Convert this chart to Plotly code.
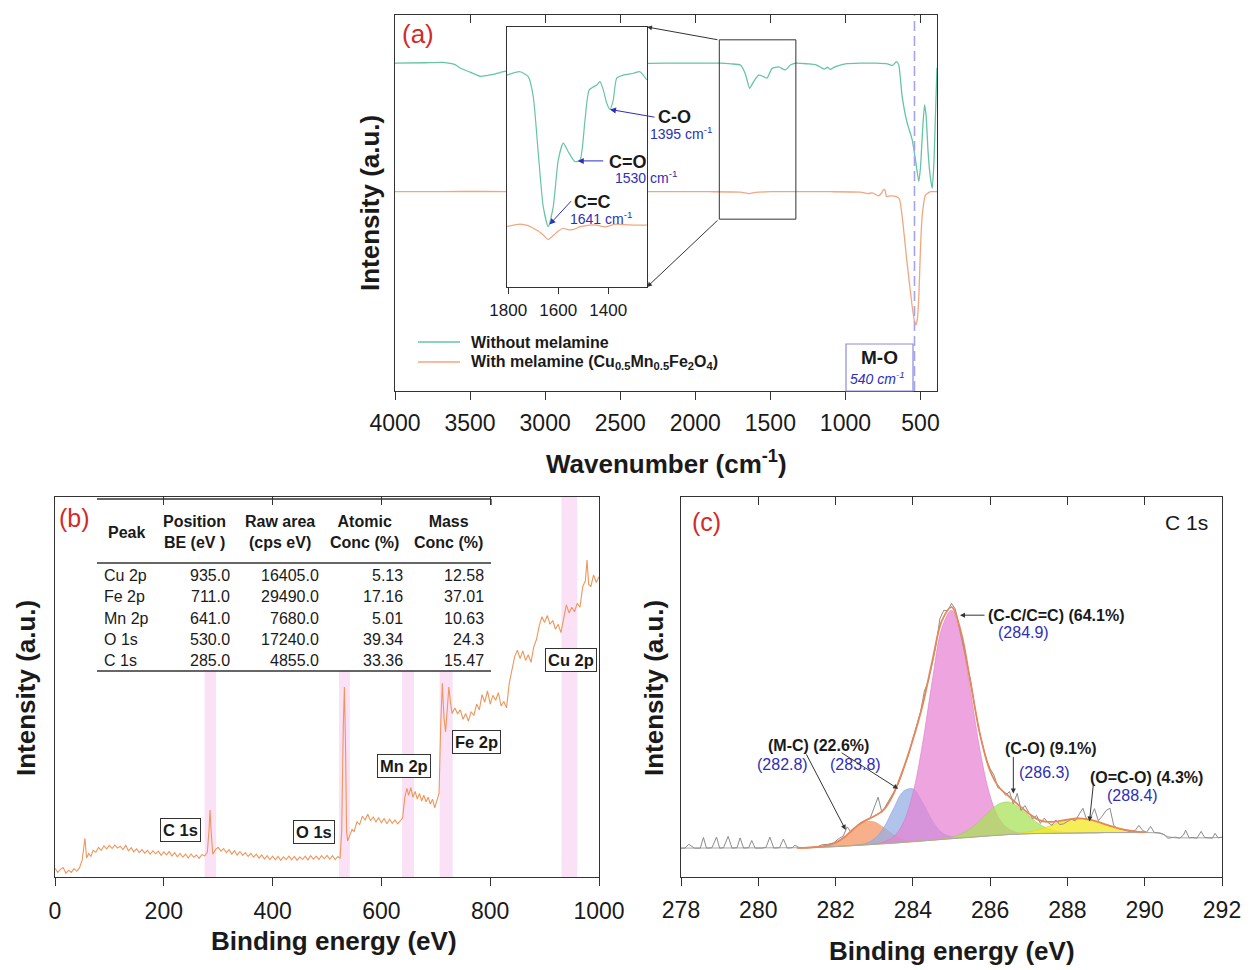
import plotly.graph_objects as go

# The page body adds an 8 px margin, so the figure is shifted and shrunk by that amount.
OFF = 8
W, H = 1255 - OFF, 970 - OFF
FONT = "Liberation Sans"
BLUE = "#2e2eb8"
RED = "#d22a2a"
AXC = "#333333"
TXT = "#1a1a1a"
GREEN = "#66c4a6"
ORANGE_A = "#f2a67f"
ORANGE_B = "#ef965c"


def px(x):
    return (x - OFF) / W


def py(y):
    return 1 - (y - OFF) / H


# ---------------- Panel (a): FTIR ----------------
ftir_ticks = [4000, 3500, 3000, 2500, 2000, 1500, 1000, 500]
ftir_without = [
    (4000, 87.2), (3800, 87.3), (3680, 87.4), (3600, 86.8), (3567, 85.9), (3500, 84.8),
    (3433, 83.7), (3390, 83.9), (3347, 84.2), (3300, 84.7), (3260, 85.1), (3200, 85.8),
    (3100, 86.6), (3000, 87.0), (2800, 87.0), (2600, 87.1), (2400, 87.1), (2200, 87.2),
    (2000, 87.2), (1840, 87.2), (1760, 87.0), (1700, 86.7), (1667, 84.4), (1638, 80.5),
    (1611, 82.3), (1578, 84.0), (1544, 83.6), (1522, 83.2), (1489, 85.8), (1444, 86.2),
    (1400, 85.4), (1367, 86.7), (1329, 87.2), (1250, 87.0), (1200, 86.8), (1160, 86.0),
    (1140, 85.6), (1120, 86.1), (1100, 85.5), (1080, 86.0), (1050, 86.5), (1000, 87.0),
    (900, 87.2), (800, 87.2), (720, 87.0), (685, 86.6), (660, 87.6), (645, 86.8),
    (622, 78.3), (590, 71.5), (555, 66.8), (533, 61.4), (511, 55.7), (500, 59.5),
    (485, 70.0), (473, 76.1), (462, 73.0), (450, 64.0), (435, 57.0), (422, 53.9),
    (410, 61.0), (400, 74.0), (390, 86.0),
]
ftir_with = [
    (4000, 53.0), (3700, 53.0), (3400, 53.1), (3100, 52.9), (2800, 53.0), (2500, 53.0),
    (2200, 53.0), (1900, 53.0), (1700, 52.9), (1640, 52.5), (1600, 52.8), (1500, 53.0),
    (1300, 53.0), (1100, 53.0), (900, 52.9), (850, 52.5), (820, 52.7), (780, 51.9),
    (760, 52.6), (745, 53.6), (735, 53.3), (727, 51.7), (700, 51.9), (660, 51.7),
    (640, 51.0), (622, 46.4), (589, 34.0), (555, 22.4), (540, 18.5), (529, 17.6),
    (520, 19.5), (511, 25.1), (500, 38.0), (489, 46.4), (467, 52.1), (433, 53.0),
    (390, 53.0),
]
legend_names = ["<b>Without melamine</b>",
                "<b>With melamine (Cu<sub>0.5</sub>Mn<sub>0.5</sub>Fe<sub>2</sub>O<sub>4</sub>)</b>"]
inset_ticks = [1800, 1600, 1400]
inset_wn = [1805, 1753, 1720, 1700, 1680, 1660, 1640, 1620, 1600, 1580, 1560, 1533, 1513,
            1493, 1476, 1446, 1433, 1420, 1406, 1393, 1380, 1366, 1340, 1300, 1273, 1246]
inset_without = [81.5, 82.8, 80.9, 73.2, 51.5, 30.9, 23.2, 30.9, 48.8, 55.3, 52.0, 48.2, 48.8,
                 64.2, 75.8, 77.7, 79.0, 75.8, 70.7, 68.3, 71.9, 80.3, 81.5, 82.2, 82.8, 79.6]
inset_with = [23.2, 24.2, 23.6, 22.6, 21.5, 20.0, 18.3, 19.8, 21.5, 22.6, 22.0, 22.3, 23.2,
              23.5, 23.8, 23.8, 23.5, 23.2, 23.2, 23.6, 24.0, 24.2, 24.0, 23.8, 23.8, 23.8]
inset_labels = ["C-O", "C=O", "C=C"]
inset_label_wn = [1395, 1530, 1641]
mo_wn = 540

# ---------------- Panel (b): XPS survey ----------------
survey_ticks = [0, 200, 400, 600, 800, 1000]
survey = [
    (0, 2.3), (5, 1.2), (10, 2.0), (15, 2.5), (20, 1.0), (25, 1.8), (30, 1.2), (35, 2.2),
    (40, 1.5), (45, 2.4), (50, 4.5), (55, 10.2), (58, 5.0), (62, 6.2), (66, 5.4), (70, 7.0),
    (75, 6.5), (80, 7.8), (85, 7.0), (90, 8.2), (95, 7.4), (100, 8.3), (105, 7.5), (110, 8.4),
    (115, 7.6), (120, 8.1), (125, 7.2), (130, 8.3), (135, 6.9), (140, 7.7), (145, 6.6),
    (150, 7.4), (155, 6.4), (160, 7.2), (165, 6.3), (170, 7.0), (175, 6.0), (180, 6.9),
    (185, 6.1), (190, 6.8), (195, 5.7), (200, 6.6), (205, 5.8), (210, 6.7), (215, 5.5),
    (220, 6.4), (225, 5.3), (230, 6.2), (235, 5.2), (240, 6.0), (245, 5.0), (250, 6.1),
    (255, 5.2), (260, 5.8), (265, 4.9), (270, 5.9), (275, 5.6), (280, 6.5), (283, 12.0),
    (285, 17.6), (287, 12.0), (290, 6.0), (295, 7.2), (300, 7.8), (305, 6.8), (310, 7.5),
    (315, 6.4), (320, 7.2), (325, 6.0), (330, 6.9), (335, 5.8), (340, 6.7), (345, 5.7),
    (350, 6.4), (355, 5.4), (360, 6.2), (365, 5.2), (370, 6.0), (375, 5.0), (380, 5.8),
    (385, 4.7), (390, 5.6), (395, 4.6), (400, 5.5), (405, 4.5), (410, 5.4), (415, 4.4),
    (420, 5.3), (425, 4.6), (430, 5.5), (435, 4.5), (440, 5.4), (445, 4.4), (450, 5.3),
    (455, 4.6), (460, 5.5), (465, 4.5), (470, 5.6), (475, 4.7), (480, 5.5), (485, 4.6),
    (490, 5.6), (495, 4.8), (500, 5.7), (505, 4.7), (510, 5.6), (515, 4.6), (520, 5.4),
    (524, 4.9), (527, 12.0), (530, 40.0), (532, 50.0), (534, 35.0), (536, 12.0), (538, 9.5),
    (542, 11.0), (546, 12.5), (550, 12.0), (555, 14.5), (560, 13.8), (565, 16.0), (570, 15.0),
    (575, 16.5), (580, 14.8), (585, 15.8), (590, 14.5), (595, 15.6), (600, 14.3), (605, 15.4),
    (610, 14.0), (615, 15.2), (620, 14.1), (625, 15.0), (630, 14.0), (635, 14.9), (639, 15.5),
    (643, 21.0), (647, 23.3), (650, 21.5), (654, 23.5), (658, 21.0), (662, 22.5), (666, 20.5),
    (670, 22.0), (674, 20.0), (678, 21.5), (682, 19.8), (686, 21.0), (690, 19.2), (694, 20.5),
    (698, 18.2), (702, 20.0), (706, 22.0), (709, 40.0), (712, 51.0), (715, 42.0), (718, 38.2),
    (721, 44.0), (724, 50.0), (727, 46.0), (730, 43.0), (735, 44.5), (740, 43.0), (745, 44.0),
    (750, 41.5), (755, 43.0), (760, 41.0), (765, 43.5), (770, 42.5), (775, 45.5), (780, 44.0),
    (785, 48.0), (790, 46.0), (795, 49.0), (800, 45.5), (805, 47.8), (810, 46.5), (815, 48.5),
    (820, 45.0), (825, 46.2), (830, 44.5), (835, 51.0), (840, 55.0), (845, 58.0), (850, 59.7),
    (855, 57.5), (860, 59.5), (865, 57.0), (870, 58.5), (875, 56.5), (880, 60.5), (885, 62.5),
    (890, 66.0), (895, 68.5), (900, 67.0), (905, 68.8), (910, 66.5), (915, 67.5), (920, 65.2),
    (925, 66.5), (930, 64.3), (935, 68.0), (940, 71.6), (945, 69.5), (950, 71.0), (955, 69.8),
    (960, 72.0), (965, 71.0), (970, 76.4), (975, 78.0), (978, 83.4), (981, 77.0), (985, 76.4),
    (990, 79.5), (995, 77.5), (1000, 79.0),
]
survey_be = [p[0] for p in survey]
survey_int = [p[1] for p in survey]

band_names = ["C 1s", "O 1s", "Mn 2p", "Fe 2p", "Cu 2p"]
band_lo = [275, 522, 638, 707, 931]
band_hi = [296, 542, 660, 731, 960]
label_be = [230, 477, 641, 775, 948]
label_int = [12.4, 11.8, 29.2, 35.5, 57.1]

table_peak = ["Cu 2p", "Fe 2p", "Mn 2p", "O 1s", "C 1s"]
table_position = ["935.0", "711.0", "641.0", "530.0", "285.0"]
table_raw_area = ["16405.0", "29490.0", "7680.0", "17240.0", "4855.0"]
table_atomic = ["5.13", "17.16", "5.01", "39.34", "33.36"]
table_mass = ["12.58", "37.01", "10.63", "24.3", "15.47"]
table_header = ["Peak", "Position<br>BE (eV )", "Raw area<br>(cps eV)", "Atomic<br>Conc (%)", "Mass<br>Conc (%)"]

# ---------------- Panel (c): C 1s ----------------
c1s_ticks = [278, 280, 282, 284, 286, 288, 290, 292]
c1s_grid = [281.0, 281.25, 281.5, 281.75, 282.0, 282.25, 282.5, 282.75, 283.0, 283.25, 283.5,
            283.75, 284.0, 284.25, 284.5, 284.75, 285.0, 285.25, 285.5, 285.75, 286.0, 286.25,
            286.5, 286.75, 287.0, 287.25, 287.5, 287.75, 288.0, 288.25, 288.5, 288.75, 289.0,
            289.25, 289.5, 289.75, 290.0]
c1s_bg = [7.7, 7.7, 7.8, 7.9, 8.0, 8.15, 8.3, 8.45, 8.6, 8.75, 8.9, 9.1, 9.3, 9.5, 9.7, 9.9,
          10.1, 10.3, 10.5, 10.7, 10.9, 11.05, 11.2, 11.3, 11.4, 11.45, 11.5, 11.55, 11.6, 11.6,
          11.65, 11.65, 11.7, 11.7, 11.7, 11.7, 11.7]
comp_mc = [0, 0, 0.1, 0.3, 1.0, 2.5, 4.6, 6.0, 5.9, 4.2, 2.2, 0.8, 0.2] + [0] * 24
comp_2838 = [0] * 6 + [0.1, 0.3, 1.4, 4.3, 9.1, 13.4, 13.9, 10.1, 5.2, 1.8, 0.5, 0.1] + [0] * 19
comp_cc = [0] * 8 + [0.1, 0.5, 1.7, 5.1, 12.7, 25.5, 41.8, 55.6, 60.1, 52.9, 37.8, 22.0, 10.4,
                     4.0, 1.3, 0.3, 0.1] + [0] * 12
comp_co = [0] * 15 + [0.1, 0.3, 1.0, 2.3, 4.3, 6.6, 8.3, 8.5, 7.0, 4.7, 2.6, 1.2, 0.4, 0.1] + [0] * 8
comp_oco = [0] * 22 + [0.1, 0.2, 0.5, 1.0, 1.8, 2.7, 3.4, 3.8, 3.6, 3.0, 2.1, 1.3, 0.7, 0.3, 0.1]

c1s_bgline_ev = [278.0, 280.0, 281.0, 281.5, 282.0, 282.5, 283.0, 283.5, 284.0, 284.5, 285.0,
                 285.5, 286.0, 286.5, 287.0, 287.5, 288.0, 289.0, 290.0, 290.4, 290.6, 290.8,
                 291.5, 292.0]
c1s_bgline = [7.6, 7.6, 7.7, 7.8, 8.0, 8.3, 8.6, 8.9, 9.3, 9.7, 10.1, 10.5, 10.9, 11.2, 11.4,
              11.5, 11.6, 11.7, 11.7, 11.6, 10.6, 10.3, 10.3, 10.4]

c1s_raw = [
    (278.0, 7.6), (278.1, 7.6), (278.2, 8.6), (278.35, 7.6), (278.5, 7.6), (278.58, 10.4),
    (278.66, 7.6), (278.8, 7.7), (278.92, 10.5), (279.0, 7.6), (279.1, 7.7), (279.22, 10.7),
    (279.32, 7.6), (279.45, 7.7), (279.53, 10.3), (279.62, 7.6), (279.75, 7.7), (279.83, 9.6),
    (279.92, 7.6), (280.1, 7.6), (280.2, 7.8), (280.3, 10.5), (280.4, 7.6), (280.55, 7.7),
    (280.65, 10.0), (280.75, 7.6), (280.88, 7.7), (280.95, 8.4), (281.05, 7.7), (281.2, 7.7),
    (281.4, 7.8), (281.55, 8.0), (281.65, 8.5), (281.8, 8.6), (281.95, 9.0), (282.1, 10.2),
    (282.2, 10.8), (282.3, 13.2), (282.4, 11.8), (282.5, 12.8), (282.6, 14.0), (282.7, 14.6),
    (282.8, 14.9), (282.9, 15.6), (283.0, 18.5), (283.1, 21.0), (283.2, 17.0), (283.3, 18.8),
    (283.4, 20.5), (283.5, 22.5), (283.6, 24.0), (283.7, 26.6), (283.8, 29.6), (283.9, 32.5),
    (284.0, 36.5), (284.1, 40.0), (284.2, 43.5), (284.3, 49.0), (284.4, 51.5), (284.5, 56.0),
    (284.6, 61.0), (284.7, 68.0), (284.8, 70.2), (284.9, 70.0), (285.0, 72.0), (285.1, 70.5),
    (285.2, 65.5), (285.3, 61.0), (285.4, 56.5), (285.5, 51.5), (285.6, 45.0), (285.7, 39.0),
    (285.8, 35.0), (285.9, 31.0), (286.0, 28.5), (286.1, 26.8), (286.2, 23.5), (286.3, 23.0),
    (286.4, 21.5), (286.5, 22.5), (286.6, 19.2), (286.7, 22.0), (286.8, 17.5), (286.9, 18.8),
    (287.0, 17.0), (287.1, 15.3), (287.2, 16.2), (287.3, 14.1), (287.4, 15.5), (287.5, 14.3),
    (287.6, 13.6), (287.7, 15.0), (287.8, 13.8), (287.9, 14.0), (288.0, 14.6), (288.1, 15.2),
    (288.2, 14.8), (288.3, 16.5), (288.4, 18.1), (288.5, 15.0), (288.6, 15.6), (288.7, 18.0),
    (288.8, 14.8), (288.9, 16.0), (289.0, 17.5), (289.1, 18.1), (289.2, 13.5), (289.3, 12.8),
    (289.45, 12.4), (289.6, 12.0), (289.75, 12.2), (289.85, 13.6), (289.95, 12.2), (290.05, 11.8),
    (290.15, 13.3), (290.25, 11.7), (290.35, 11.6), (290.5, 11.2), (290.6, 10.2), (290.7, 10.3),
    (290.8, 10.5), (290.9, 10.2), (291.0, 11.0), (291.06, 12.3), (291.15, 10.3), (291.25, 10.4),
    (291.35, 10.2), (291.46, 12.0), (291.55, 10.4), (291.65, 10.3), (291.75, 10.2), (291.82, 11.5),
    (291.9, 10.3), (292.0, 10.5),
]
c1s_raw_ev = [p[0] for p in c1s_raw]
c1s_raw_int = [p[1] for p in c1s_raw]

components = [comp_mc, comp_2838, comp_cc, comp_co, comp_oco]
comp_fill = ["rgba(246,150,100,0.75)", "rgba(150,175,228,0.75)", "rgba(232,130,210,0.72)",
             "rgba(170,225,90,0.75)", "rgba(245,232,40,0.78)"]
comp_edge = ["rgba(235,140,90,0.9)", "rgba(130,155,215,0.9)", "rgba(215,115,195,0.9)",
             "rgba(150,205,70,0.9)", "rgba(225,212,30,0.9)"]
envelope = [b + a1 + a2 + a3 + a4 + a5 for b, a1, a2, a3, a4, a5 in
            zip(c1s_bg, comp_mc, comp_2838, comp_cc, comp_co, comp_oco)]

# ---------------- Figure ----------------
fig = go.Figure()

fig.add_trace(go.Scatter(
    x=[p[0] for p in ftir_without], y=[p[1] for p in ftir_without], mode="lines",
    line=dict(color=GREEN, width=1.3, shape="spline", smoothing=0.5),
    name=legend_names[0], showlegend=False, xaxis="x", yaxis="y"))
fig.add_trace(go.Scatter(
    x=[p[0] for p in ftir_with], y=[p[1] for p in ftir_with], mode="lines",
    line=dict(color=ORANGE_A, width=1.3, shape="spline", smoothing=0.5),
    name=legend_names[1], showlegend=False, xaxis="x", yaxis="y"))
fig.add_trace(go.Scatter(x=[], y=[], xaxis="x5", yaxis="y", showlegend=False))

fig.add_trace(go.Scatter(x=inset_wn, y=inset_without, mode="lines", showlegend=False,
                         line=dict(color=GREEN, width=1.2, shape="spline", smoothing=0.6),
                         xaxis="x4", yaxis="y4"))
fig.add_trace(go.Scatter(x=inset_wn, y=inset_with, mode="lines", showlegend=False,
                         line=dict(color=ORANGE_A, width=1.2, shape="spline", smoothing=0.6),
                         xaxis="x4", yaxis="y4"))

fig.add_trace(go.Scatter(x=survey_be, y=survey_int, mode="lines", showlegend=False,
                         line=dict(color=ORANGE_B, width=1.1), xaxis="x2", yaxis="y2"))
fig.add_trace(go.Scatter(x=[], y=[], xaxis="x6", yaxis="y2", showlegend=False))

for comp, fc, ec in zip(components, comp_fill, comp_edge):
    fig.add_trace(go.Scatter(x=c1s_grid, y=c1s_bg, mode="lines", showlegend=False,
                             line=dict(width=0, shape="spline"), hoverinfo="skip",
                             xaxis="x3", yaxis="y3"))
    fig.add_trace(go.Scatter(x=c1s_grid, y=[b + c for b, c in zip(c1s_bg, comp)], mode="lines",
                             fill="tonexty", fillcolor=fc, showlegend=False,
                             line=dict(width=0.6, color=ec, shape="spline"),
                             xaxis="x3", yaxis="y3"))
fig.add_trace(go.Scatter(x=c1s_bgline_ev, y=c1s_bgline, mode="lines", showlegend=False,
                         line=dict(color="#a8a8a8", width=1), xaxis="x3", yaxis="y3"))
fig.add_trace(go.Scatter(x=c1s_raw_ev, y=c1s_raw_int, mode="lines", showlegend=False,
                         line=dict(color="#8c8c8c", width=1), xaxis="x3", yaxis="y3"))
fig.add_trace(go.Scatter(x=c1s_grid, y=envelope, mode="lines", showlegend=False,
                         line=dict(color="#e6875a", width=1.8, shape="spline"),
                         xaxis="x3", yaxis="y3"))
fig.add_trace(go.Scatter(x=[], y=[], xaxis="x7", yaxis="y3", showlegend=False))

tickfont = dict(family=FONT, size=23, color=TXT)


def xax(domain, rng, tickvals, anchor, standoff=0):
    return dict(domain=domain, range=rng, tickvals=tickvals, anchor=anchor, ticks="outside",
                ticklen=8, tickwidth=1, tickcolor=AXC, showline=True, linecolor=AXC,
                linewidth=1, mirror=True, showgrid=False, zeroline=False, tickfont=tickfont,
                ticklabelstandoff=standoff, automargin=False)


def topax(over, rng, tickvals, anchor):
    return dict(overlaying=over, side="top", anchor=anchor, range=rng, tickvals=tickvals,
                ticks="inside", ticklen=8, tickwidth=1, tickcolor=AXC, showticklabels=False,
                showline=False, showgrid=False, zeroline=False, automargin=False)


def yax(domain, anchor):
    return dict(domain=domain, range=[0, 100], anchor=anchor, showline=True, linecolor=AXC,
                linewidth=1, mirror=True, ticks="", showticklabels=False, showgrid=False,
                zeroline=False, automargin=False)


ftir_range = [4000, 390]
fig.update_layout(
    xaxis=xax([px(395), px(937)], ftir_range, ftir_ticks, "y", 3),
    yaxis=yax([py(391), py(15)], "x"),
    xaxis5=topax("x", ftir_range, ftir_ticks, "y"),
    xaxis2=xax([px(55), px(599)], [0, 1000], survey_ticks, "y2", 5),
    yaxis2=yax([py(877), py(497)], "x2"),
    xaxis6=topax("x2", [0, 1000], survey_ticks, "y2"),
    xaxis3=xax([px(681), px(1222)], [278, 292], c1s_ticks, "y3", 4),
    yaxis3=yax([py(877), py(497)], "x3"),
    xaxis7=topax("x3", [278, 292], c1s_ticks, "y3"),
    xaxis4=dict(domain=[px(507), px(647)], range=[1805, 1245], tickvals=inset_ticks,
                anchor="y4", ticks="outside", ticklen=6, tickcolor=AXC, showline=True,
                linecolor=AXC, linewidth=1, mirror=True, showgrid=False, zeroline=False,
                tickfont=dict(family=FONT, size=17, color=TXT), ticklabelstandoff=2,
                automargin=False),
    yaxis4=yax([py(287), py(27)], "x4"),
)

shapes = []
# inset background (drawn inside the inset subplot, above panel (a) traces)
shapes.append(dict(type="rect", xref="x4", yref="y4", x0=1805, x1=1245, y0=0, y1=100,
                   fillcolor="white", line=dict(width=0), layer="below"))
# zoom rectangle on the main FTIR axis
shapes.append(dict(type="rect", xref="x", yref="y", x0=1840, x1=1330, y0=45.7, y1=93.4,
                   line=dict(color=AXC, width=1), layer="above"))
# M-O dashed marker
shapes.append(dict(type="line", xref="x", yref="y", x0=mo_wn, x1=mo_wn, y0=0, y1=100,
                   line=dict(color="#a4a4ee", width=1.6, dash="10px,5px"), layer="above"))
shapes.append(dict(type="rect", xref="paper", yref="paper", x0=px(846), x1=px(913),
                   y0=py(391), y1=py(344), line=dict(color="#8a8ae0", width=1.2), layer="above"))
# legend line samples
for yy, col in zip([342, 362], [GREEN, ORANGE_A]):
    shapes.append(dict(type="line", xref="paper", yref="paper", x0=px(418), x1=px(460),
                       y0=py(yy), y1=py(yy), line=dict(color=col, width=1.5), layer="above"))
# XPS bands
for lo, hi in zip(band_lo, band_hi):
    shapes.append(dict(type="rect", xref="x2", yref="y2", x0=lo, x1=hi, y0=0, y1=100,
                       fillcolor="rgba(246,200,238,0.55)", line=dict(width=0), layer="below"))
# table background and rules
shapes.append(dict(type="rect", xref="x2", yref="y2", x0=77, x1=803, y0=54.3, y1=100,
                   fillcolor="white", line=dict(width=0), layer="below"))
for yy in [499, 563, 671]:
    shapes.append(dict(type="line", xref="paper", yref="paper", x0=px(97), x1=px(491),
                       y0=py(yy), y1=py(yy), line=dict(color=AXC, width=1.3), layer="above"))
shapes.append(dict(type="line", xref="paper", yref="paper", x0=px(491), x1=px(491),
                   y0=py(499), y1=py(505), line=dict(color=AXC, width=1.3), layer="above"))

ann = []


def text_px(x, y, text, size, color=TXT, xanchor="center", yanchor="middle", angle=0):
    ann.append(dict(x=px(x), y=py(y), xref="paper", yref="paper", text=text, showarrow=False,
                    font=dict(family=FONT, size=size, color=color), xanchor=xanchor,
                    yanchor=yanchor, textangle=angle))


def arrow(x, y, xref, yref, ax, ay, color=AXC, size=1.0):
    ann.append(dict(x=x, y=y, xref=xref, yref=yref, ax=ax, ay=ay, text="", showarrow=True,
                    arrowhead=2, arrowsize=size, arrowwidth=1, arrowcolor=color, standoff=0))


# panel titles / axis titles
text_px(418, 34, "(a)", 26, RED)
text_px(74, 518, "(b)", 25, RED)
text_px(707, 522, "(c)", 25, RED)
text_px(1186, 522, "C 1s", 21)
text_px(370, 203, "<b>Intensity (a.u.)</b>", 26, angle=-90)
text_px(666, 462, "<b>Wavenumber (cm<sup>-1</sup>)</b>", 26)
text_px(26, 688, "<b>Intensity (a.u.)</b>", 26, angle=-90)
text_px(334, 941, "<b>Binding energy (eV)</b>", 26)
text_px(654, 688, "<b>Intensity (a.u.)</b>", 26, angle=-90)
text_px(952, 951, "<b>Binding energy (eV)</b>", 26)

# legend texts
text_px(469, 342, legend_names[0], 16, xanchor="left")
text_px(469, 363, legend_names[1], 16, xanchor="left")

# inset connectors
arrow(px(647), py(27), "paper", "paper", 72, 13)
arrow(px(647), py(287), "paper", "paper", 72, -68)

# inset peak labels
inset_heads = [(1393, 68.3, 46, 8), (1522, 48.5, 27, 0), (1635, 24.0, 23, -25)]
label_pos = [(675, 117), (628, 162), (592, 202)]
wn_pos = [(681, 133), (646, 177), (601, 218)]
for lab, wn, (hx, hy, ax, ay), (lx, ly), (wx, wy) in zip(inset_labels, inset_label_wn,
                                                          inset_heads, label_pos, wn_pos):
    arrow(hx, hy, "x4", "y4", ax, ay, BLUE, 1.2)
    text_px(lx, ly, f"<b>{lab}</b>", 18)
    text_px(wx, wy, f"{wn} cm<sup>-1</sup>", 14, BLUE)

text_px(879, 357, "<b>M-O</b>", 19)
text_px(877, 378, f"<i>{mo_wn} cm<sup>-1</sup></i>", 14, BLUE)

# XPS survey labels
for name, bx, by in zip(band_names, label_be, label_int):
    ann.append(dict(x=bx, y=by, xref="x2", yref="y2", text=f"<b>{name}</b>", showarrow=False,
                    font=dict(family=FONT, size=16.5, color=TXT), bgcolor="white",
                    bordercolor=AXC, borderwidth=1, borderpad=2))

# table
header_x = [126, 194, 280, 364, 448]
for hx, ht in zip(header_x, table_header):
    text_px(hx, 532, f"<b>{ht}</b>", 16)
row_y = [575, 596, 618, 639, 660]
for i, ry in enumerate(row_y):
    text_px(102, ry, table_peak[i], 16, xanchor="left")
    text_px(232, ry, table_position[i], 16, xanchor="right")
    text_px(321, ry, table_raw_area[i], 16, xanchor="right")
    text_px(405, ry, table_atomic[i], 16, xanchor="right")
    text_px(486, ry, table_mass[i], 16, xanchor="right")

# C 1s labels
c_labels = ["(C-C/C=C) (64.1%)", "(M-C) (22.6%)", "(C-O) (9.1%)", "(O=C-O) (4.3%)"]
c_label_pos = [(1056, 615), (819, 745), (1051, 748), (1146, 777)]
c_values = ["(284.9)", "(282.8)", "(283.8)", "(286.3)", "(288.4)"]
c_value_pos = [(1023, 632), (782, 764), (855, 764), (1044, 772), (1132, 795)]
for t, (x, y) in zip(c_labels, c_label_pos):
    text_px(x, y, f"<b>{t}</b>", 16)
for t, (x, y) in zip(c_values, c_value_pos):
    text_px(x, y, t, 16, BLUE)
arrow(285.22, 68.9, "x3", "y3", 26, 0)
arrow(282.26, 12.4, "x3", "y3", -40, -77)
arrow(283.62, 23.2, "x3", "y3", -58, -37)
arrow(286.6, 22.0, "x3", "y3", 0, -38)
arrow(288.57, 14.6, "x3", "y3", 4, -38)

fig.update_layout(
    width=W, height=H, autosize=False, margin=dict(l=0, r=0, t=0, b=0),
    paper_bgcolor="white", plot_bgcolor="white",
    font=dict(family=FONT, color=TXT),
    shapes=shapes, annotations=ann, showlegend=False,
)

fig.write_html("out.html")
